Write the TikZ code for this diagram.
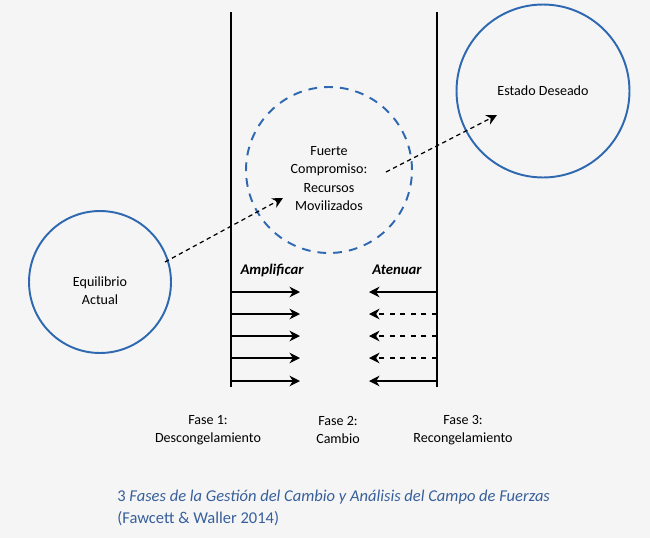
\documentclass[tikz,border=0pt]{standalone}
\usepackage{fontspec}
\setmainfont{Carlito}
\usetikzlibrary{positioning,arrows.meta}
\definecolor{circblue}{RGB}{46,104,176}
\definecolor{capblue}{RGB}{55,95,155}
\definecolor{bggray}{RGB}{245,245,245}

\tikzset{
  zone/.style={circle,draw=circblue,line width=1.1pt,inner sep=0pt},
  force/.style={line width=0.7pt,-{Stealth[length=6pt,width=6pt]}},
  weakforce/.style={force,dashed},
  path/.style={line width=0.7pt,dash pattern=on 2.5pt off 2pt,-{Stealth[length=6pt,width=6pt]}},
  lbl/.style={align=center,font=\fontsize{8}{10.4}\selectfont}
}

\begin{document}
\begin{tikzpicture}[x=0.02cm,y=-0.02cm]
  \fill[bggray] (0,0) rectangle (650,538);
  \useasboundingbox (0,0) rectangle (650,538);

  % fases
  \coordinate (l1t) at (231,12);
  \coordinate (l1b) at (231,387);
  \coordinate (l2t) at (437,12);
  \coordinate (l2b) at (437,387);
  \draw[line width=0.8pt] (l1t) -- (l1b);
  \draw[line width=0.8pt] (l2t) -- (l2b);

  \node[zone,minimum size=2.84cm] (actual) at (100,282) {};
  \node[zone,minimum size=3.46cm] (deseado) at (543,91) {};
  \node[zone,minimum size=3.32cm,dash pattern=on 5pt off 4pt] (cambio) at (329,170) {};
  \node[lbl] (actualtxt) at ([yshift=-0.17cm]actual.center) {Equilibrio\\Actual};
  \node[lbl] (deseadotxt) at (deseado.center) {Estado Deseado};
  \node[lbl] (cambiotxt) at ([yshift=-0.17cm]cambio.center) {Fuerte\\Compromiso:\\Recursos\\Movilizados};

  \coordinate (p1) at (165,262);
  \coordinate (p2) at (283,198);
  \coordinate (p3) at (386,172);
  \coordinate (p4) at (497,115);
  \draw[path] (p1) -- (p2);
  \draw[path] (p3) -- (p4);

  \node[lbl,font=\fontsize{8.4}{10.4}\selectfont\bfseries\itshape] (amp) at (272,270) {Amplificar};
  \node[lbl,font=\fontsize{8.4}{10.4}\selectfont\bfseries\itshape] (ate) at (397,270) {Atenuar};

  % fuerzas
  \foreach \y/\s in {292/force,314/weakforce,336/weakforce,358/weakforce,381/force}{
    \coordinate (a\y) at (231,\y);
    \coordinate (b\y) at (300,\y);
    \coordinate (c\y) at (437,\y);
    \coordinate (d\y) at (369,\y);
    \draw[force] (a\y) -- (b\y);
    \draw[\s] (c\y) -- (d\y);
  }

  \node[lbl] (f1) at (208,430) {Fase 1:\\Descongelamiento};
  \node[lbl] (f2) at (338,430) {Fase 2:\\Cambio};
  \node[lbl] (f3) at (463,430) {Fase 3:\\Recongelamiento};

  \node[anchor=north west,align=left,text=capblue,font=\fontsize{9.4}{12.2}\selectfont,inner sep=0pt]
    (cap) at (117,490) {3 \textit{Fases de la Gestión del Cambio y Análisis del Campo de Fuerzas}\\(Fawcett \& Waller 2014)};
\end{tikzpicture}
\end{document}
